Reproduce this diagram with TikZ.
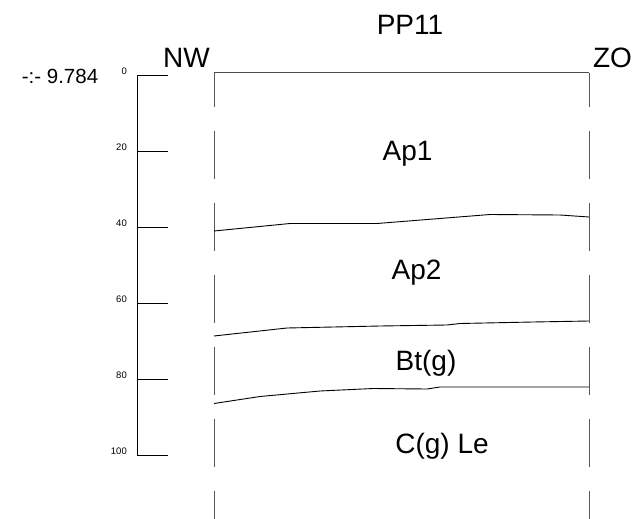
\documentclass[tikz,border=0pt]{standalone}
\usepackage{fontspec}
\setmainfont{Liberation Sans}
\begin{document}
\begin{tikzpicture}[x=1pt,y=-1pt,
  big/.style={anchor=base,font=\fontsize{28}{30}\selectfont,inner sep=0pt},
  mid/.style={anchor=base,font=\fontsize{20.5}{22}\selectfont,inner sep=0pt},
  small/.style={anchor=base east,font=\fontsize{9.5}{11}\selectfont,inner sep=0pt},
  scaleline/.style={line width=1pt,black},
  horizon/.style={line width=0.9pt,black},
  profile/.style={line width=1pt,black!65,dash pattern=on 48pt off 24pt,dash phase=14pt}]
\useasboundingbox (0,0) rectangle (635,519);
% titles
\node[big] (title) at (410,35) {PP11};
\node[big] (nw) at (186.5,68) {NW};
\node[big] (zo) at (612.5,68) {ZO};
\node[mid] (elev) at (60,84) {-:- 9.784};
% depth scale
\coordinate (s0) at (137,76);
\coordinate (s100) at (137,455);
\draw[scaleline] (s0) -- (s100);
\foreach \d/\y in {0/76,20/151.8,40/227.6,60/303.4,80/379.2,100/455}{
  \coordinate (t\d) at (137,\y);
  \coordinate (te\d) at (168,\y);
  \draw[scaleline] (t\d) -- (te\d);
  \node[small] (l\d) at (127,\y-1) {\d};
}
% profile frame
\coordinate (tl) at (214,73);
\coordinate (tr) at (589,73);
\coordinate (bl) at (214,519);
\coordinate (br) at (589,519);
\draw[line width=1pt,black!70] (tl) -- (tr);
\draw[profile] (tl) -- (bl);
\draw[profile] (tr) -- (br);
% horizon boundaries
\draw[horizon] (214,231) -- (290,223.5) -- (377,223.5) -- (490,214.5) -- (560,215) -- (589,217);
\draw[horizon] (214,336) -- (287,328) -- (380,326) -- (447,325) -- (460,323.5) -- (533,322) -- (589,321);
\draw[horizon] (214,403.5) -- (260,396.5) -- (320,391) -- (373,388.5) -- (427,389) -- (440,387) -- (589,387);
% horizon labels
\node[big] (ap1) at (407.5,160) {Ap1};
\node[big] (ap2) at (416.5,279) {Ap2};
\node[big] (bt) at (426,370) {Bt(g)};
\node[big] (cle) at (442,453) {C(g) Le};
\end{tikzpicture}
\end{document}
